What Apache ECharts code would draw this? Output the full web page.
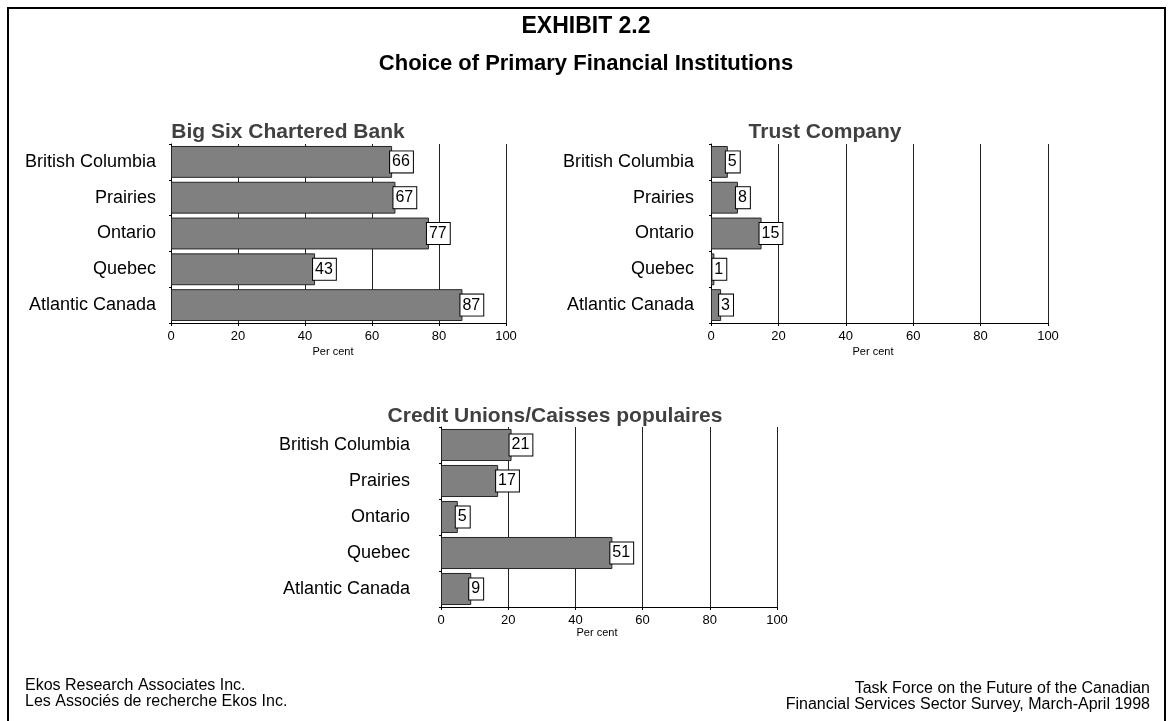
<!DOCTYPE html>
<html>
<head>
<meta charset="utf-8">
<script src="https://cdn.jsdelivr.net/npm/echarts@6/dist/echarts.min.js"></script>
<style>
html,body{margin:0;padding:0;background:#fff;}
#chart{width:1171px;height:721px;}
</style>
</head>
<body>
<div id="chart"></div>
<script>
const regions = ['British Columbia', 'Prairies', 'Ontario', 'Quebec', 'Atlantic Canada'];
const bigSixBank = [66, 67, 77, 43, 87];
const trustCompany = [5, 8, 15, 1, 3];
const creditUnions = [21, 17, 5, 51, 9];
const panelTitles = ['Big Six Chartered Bank', 'Trust Company', 'Credit Unions/Caisses populaires'];
const axisMin = 0, axisMax = 100, axisStep = 20;
const axisName = 'Per cent';

const FONT = 'Arial, "Liberation Sans", sans-serif';
const chart = echarts.init(document.getElementById('chart'), null, {renderer: 'canvas'});

const grids = [
  {left: 171, top: 144, width: 335, height: 179},
  {left: 711, top: 144, width: 337, height: 179},
  {left: 441, top: 427, width: 336, height: 180}
];
const labelMargins = [15, 17, 31];
const seriesData = [bigSixBank, trustCompany, creditUnions];

const xAxes = grids.map((g, i) => ({
  type: 'value', gridIndex: i, min: axisMin, max: axisMax, interval: axisStep,
  axisLine: {show: true, lineStyle: {color: '#000', width: 1}},
  axisTick: {show: true, length: 3, lineStyle: {color: '#000'}},
  axisLabel: {color: '#000', fontSize: 13, fontFamily: FONT, margin: 7},
  splitLine: {show: true, lineStyle: {color: '#222', width: 1}}
}));
const yAxes = grids.map((g, i) => ({
  type: 'category', gridIndex: i, data: regions, inverse: true,
  axisLine: {show: true, lineStyle: {color: '#000', width: 1}},
  axisTick: {show: true, length: 2, lineStyle: {color: '#000'}},
  axisLabel: {color: '#000', fontSize: 18, fontFamily: FONT, margin: labelMargins[i]},
  splitLine: {show: false}
}));
const series = seriesData.map((d, i) => ({
  type: 'bar', xAxisIndex: i, yAxisIndex: i, data: d,
  barCategoryGap: '11%',
  itemStyle: {color: '#808080', borderColor: '#262626', borderWidth: 1},
  label: {
    show: true, position: 'right', distance: 0, offset: [-2, 0],
    color: '#000', fontSize: 16, fontFamily: FONT,
    backgroundColor: '#fff', borderColor: '#000', borderWidth: 1,
    padding: [3, 3, 2, 2]
  },
  silent: true, animation: false
}));

const titleStyle = (x, y, text, size, color) => ({
  type: 'text', x: x, y: y,
  style: {text: text, fill: color, font: 'bold ' + size + 'px ' + FONT, textAlign: 'center', textVerticalAlign: 'middle'}
});
const plainText = (x, y, text, align) => ({
  type: 'text', x: x, y: y,
  style: {text: text, fill: '#000', font: '16px ' + FONT, textAlign: align, textVerticalAlign: 'middle'}
});
const perCent = (x, y) => ({
  type: 'text', x: x, y: y,
  style: {text: axisName, fill: '#000', font: '11px ' + FONT, textAlign: 'center', textVerticalAlign: 'middle'}
});

chart.setOption({
  animation: false,
  backgroundColor: '#fff',
  grid: grids,
  xAxis: xAxes,
  yAxis: yAxes,
  series: series,
  graphic: [
    {type: 'rect', shape: {x: 8, y: 8, width: 1157, height: 740}, style: {fill: 'none', stroke: '#000', lineWidth: 2}},
    titleStyle(586, 27, 'EXHIBIT 2.2', 23, '#000'),
    titleStyle(586, 64, 'Choice of Primary Financial Institutions', 22, '#000'),
    titleStyle(288, 132, panelTitles[0], 21, '#404040'),
    titleStyle(825, 132, panelTitles[1], 21, '#404040'),
    titleStyle(555, 416, panelTitles[2], 21, '#404040'),
    perCent(333, 352),
    perCent(873, 352),
    perCent(597, 633),
    plainText(25, 686, 'Ekos Research Associates Inc.', 'left'),
    plainText(25, 702, 'Les Associés de recherche Ekos Inc.', 'left'),
    plainText(1150, 689, 'Task Force on the Future of the Canadian', 'right'),
    plainText(1150, 705, 'Financial Services Sector Survey, March-April 1998', 'right')
  ]
});
</script>
</body>
</html>
